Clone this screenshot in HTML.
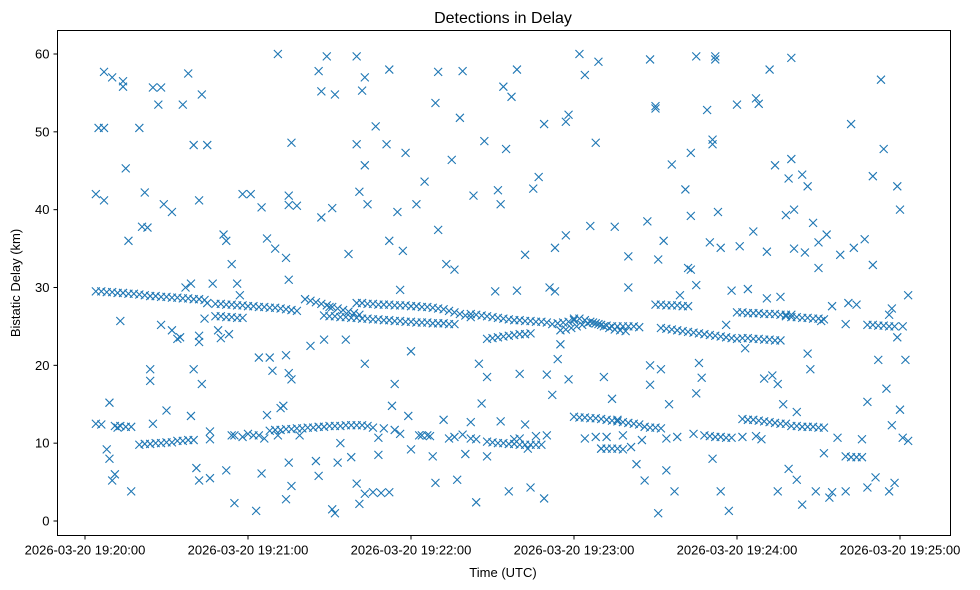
<!DOCTYPE html>
<html><head><meta charset="utf-8"><style>
body{margin:0;background:#fff;}
svg{display:block;font-family:"Liberation Sans","DejaVu Sans",sans-serif;}
</style></head><body>
<svg id="chart" width="980" height="590">
<rect x="0" y="0" width="980" height="590" fill="#fff"/>
<text x="503" y="23" text-anchor="middle" font-size="16" fill="#000">Detections in Delay</text>
<g id="marks"></g>
<g id="axes"></g>
<rect x="57.5" y="30.5" width="893" height="505" fill="none" stroke="#000" stroke-width="1"/>
<text x="503" y="577" text-anchor="middle" font-size="13" fill="#000">Time (UTC)</text>
<text transform="translate(20,283) rotate(-90)" text-anchor="middle" font-size="13" fill="#000">Bistatic Delay (km)</text>
</svg>
<script>
// time in seconds after 2026-03-20 19:20:00, delay in km
const xTickValues = [0, 60, 120, 180, 240, 300];
const xTickLabels = ["2026-03-20 19:20:00","2026-03-20 19:21:00","2026-03-20 19:22:00","2026-03-20 19:23:00","2026-03-20 19:24:00","2026-03-20 19:25:00"];
const yTickValues = [0, 10, 20, 30, 40, 50, 60];
const yTickLabels = ["0","10","20","30","40","50","60"];

const upperTrackPoints = [
[4,29.5],[6,29.5],[8,29.4],[10,29.4],[12,29.3],[14,29.3],[16,29.2],[18,29.2],[20,29.1],[22,29.0],[24,28.9],[26,28.9],[28,28.8],[30,28.8],[32,28.7],[34,28.7],[36,28.6],[38,28.6],[40,28.5],[42,28.5],[44,28.4],
[48,27.9],[50,27.9],[52,27.8],[54,27.8],[56,27.7],[58,27.7],[60,27.6],[62,27.6],[64,27.5],[66,27.5],[68,27.4],[70,27.4],[72,27.3],[74,27.2],[76,27.1],[78,27.0],
[48,26.3],[50,26.3],[52,26.2],[54,26.2],[56,26.1],[58,26.1],
[81,28.5],[83,28.3],[85,28.1],[87,27.9],[89,27.7],[91,27.5],[93,27.3],[95,27.1],[97,26.9],[99,26.7],[101,26.5],
[88,26.4],[90,26.3],[92,26.3],[94,26.2],[96,26.2],[98,26.1],[100,26.1],[102,26.0],[104,26.0],[106,25.9],[108,25.9],[110,25.8],[112,25.8],[114,25.7],[116,25.7],[118,25.6],[120,25.6],[122,25.5],[124,25.5],[126,25.5],[128,25.4],[130,25.4],[132,25.4],[134,25.3],[136,25.3],
[100,28.0],[102,28.0],[104,27.9],[106,27.9],[108,27.8],[110,27.8],[112,27.8],[114,27.7],[116,27.7],[118,27.7],[120,27.6],[122,27.6],[124,27.5],[126,27.5],[128,27.4],[130,27.3],[132,27.2],[134,27.0],[136,26.8],[138,26.6],[140,26.4],[142,26.2],
[142,26.6],[144,26.5],[146,26.4],[148,26.3],[150,26.2],[152,26.1],[154,26.0],[156,25.9],[158,25.8],[160,25.8],[162,25.7],[164,25.7],[166,25.6],[168,25.6],[170,25.5],
[148,23.4],[150,23.5],[152,23.6],[154,23.7],[156,23.8],[158,23.9],[160,24.0],[162,24.0],[164,24.1],
[172,25.3],[174,25.4],[176,25.5],[178,25.6],[180,25.8],[182,26.0],[184,25.8],[186,25.6],[188,25.4],[190,25.2],[192,25.1],[194,25.0],[196,25.0],[198,25.0],[200,25.0],[202,25.0],[204,24.9],
[175,24.5],[177,24.6],[179,24.8],[181,25.0],[183,25.2],[185,25.4],[187,25.5],[189,25.3],[191,25.0],[193,24.8],[195,24.6],[197,24.5],[199,24.4],
[210,27.8],[212,27.8],[214,27.7],[216,27.7],[218,27.7],[220,27.6],[222,27.6],
[212,24.8],[214,24.7],[216,24.6],[218,24.5],[220,24.4],[222,24.3],[224,24.2],[226,24.1],[228,24.0],[230,23.9],[232,23.8],[234,23.7],[236,23.6],[238,23.5],[240,23.4],
[240,26.8],[242,26.8],[244,26.7],[246,26.7],[248,26.7],[250,26.6],[252,26.6],[254,26.6],[256,26.5],[258,26.5],[260,26.5],
[242,23.5],[244,23.5],[246,23.4],[248,23.4],[250,23.3],[252,23.3],[254,23.2],[256,23.2],
[258,26.3],[260,26.2],[262,26.2],[264,26.1],[266,26.1],[268,26.0],[270,26.0],[272,25.9],
[288,25.2],[290,25.2],[292,25.1],[294,25.1],[296,25.0],[298,25.0]
];

const lowerTrackPoints = [
[4,12.5],[6,12.4],
[11,12.2],[13,12.2],[15,12.1],[17,12.1],
[20,9.8],[22,9.9],[24,9.9],[26,10.0],[28,10.0],[30,10.1],[32,10.1],
[34,10.3],[36,10.3],[38,10.4],[40,10.4],
[68,11.6],[70,11.7],[72,11.7],[74,11.8],[76,11.8],[78,11.9],[80,11.9],[82,12.0],[84,12.0],[86,12.1],[88,12.1],[90,12.2],[92,12.2],[94,12.2],[96,12.3],[98,12.3],[100,12.3],[102,12.3],[104,12.2],[106,12.0],
[110,11.9],[114,11.7],
[148,10.2],[150,10.1],[152,10.0],[154,10.0],[156,9.9],[158,9.9],[160,9.8],[162,9.8],[164,9.8],[166,9.8],[168,9.8],
[180,13.4],[182,13.3],[184,13.3],[186,13.2],[188,13.2],[190,13.1],[192,13.0],[194,12.9],[196,12.8],[198,12.7],[200,12.6],[202,12.5],[204,12.4],
[206,12.1],[208,12.0],[210,12.0],[212,11.9],
[190,9.3],[192,9.3],[194,9.3],[196,9.3],[198,9.2],
[242,13.1],[244,13.0],[246,13.0],[248,12.9],[250,12.8],[252,12.7],[254,12.6],[256,12.5],[258,12.5],
[260,12.2],[262,12.2],[264,12.1],[266,12.1],[268,12.1],[270,12.0],[272,12.0],
[280,8.3],[282,8.2],[284,8.2],[286,8.2],
[230,10.9],[232,10.8],[234,10.8],[236,10.7],[238,10.7]
];

const scatterPoints = [
[4,42],[5,50.5],[7,57.7],[7,50.5],[7,41.2],[10,57],[9,15.2],[8,9.2],[9,8],[10,5.2],[11,6],[12,12],[13,25.7],[14,55.8],[14,56.5],[15,45.3],[16,36],[17,3.8],
[20,50.5],[21,37.8],[22,42.2],[23,37.7],[24,19.5],[24,18],[25,12.5],[25,55.7],[27,53.5],[28,25.2],[28,55.7],[29,40.7],[30,14.2],[32,39.7],[32,24.5],[34,23.4],[35,23.6],[36,53.5],[37,30],[38,57.5],[39,30.5],[39,13.5],[40,19.5],[40,48.3],[41,6.8],[42,41.2],[42,23.8],[42,23],[43,17.6],[43,54.8],[42,5.2],[44,26],[45,48.3],[45,28],[46,11.5],[46,10.5],[46,5.5],[47,30.5],
[49,24.5],[50,23.5],[51,36.8],[52,36],[52,6.5],[53,24],[54,33],[54,11],[55,11],[55,2.3],[56,30.5],[57,29],[58,42],[61,42],[62,11],[63,1.3],[64,21],[65,6.1],[65,40.3],[67,13.6],[67,36.3],[68,21],[69,19.3],[70,35],[71,11],[71,60],[72,14.5],[73,14.8],[74,33.8],[74,21.3],[74,2.8],[75,31],[75,41.8],[75,40.6],[75,19],[76,18.2],[76,48.6],[76,4.5],[75,7.5],[78,40.5],[79,11],
[83,22.5],[85,7.7],[86,57.8],[86,5.8],[87,55.2],[87,39],[88,23.3],[89,59.7],[90,27.5],[91,40.2],[91,1.5],[92,1],[92,54.8],[93,7.5],[94,10],[96,23.3],[97,34.3],[98,8.2],[100,59.7],[100,48.4],[100,4.8],[101,42.3],[102,55.3],[103,57],[101,2.2],[103,20.2],[103,45.7],[104,40.7],[103,3.5],[106,3.7],[107,50.7],[108,8.5],[109,3.6],
[111,48.4],[112,3.7],[112,36],[112,58],[113,14.8],[114,17.6],[115,39.7],[116,29.7],[117,34.7],[118,47.3],[119,13.5],[120,9.2],[120,21.8],[122,40.7],[123,11],[125,43.6],[126,11],[128,8.3],[129,53.7],[129,4.9],[130,37.4],[130,57.7],[132,13],[133,33],[134,10.6],[135,46.4],[136,32.3],[137,5.3],[138,51.8],[139,57.8],[140,8.6],
[142,12.7],[142,10.6],[143,41.8],[144,2.4],[145,20.2],[146,15.1],[147,48.8],[148,8.3],[148,18.5],[151,29.5],[152,42.5],[153,12.8],[153,40.7],[154,55.8],[155,47.8],[156,3.8],[157,54.5],[158,10.5],[159,29.6],[159,58],[160,18.9],[162,12.4],[162,34.2],[163,9.3],[164,4.3],[165,42.7],[167,44.2],[169,51],[169,2.9],[170,18.8],[171,30],[172,16.2],[173,29.5],[173,35.1],[174,20.8],[175,22.7],[177,51.3],[177,36.7],[178,52.2],[178,18.2],
[180,26],[182,60],[184,57.3],[186,37.9],[188,48.6],[189,59],[190,9.3],[191,18.5],[192,10.8],[194,15.7],[195,37.8],[196,13],[198,11],[200,30],[200,34],[201,9.5],[203,7.3],[206,5.2],[207,38.5],[208,59.3],[208,17.5],[208,20],
[210,53.3],[210,53],[211,1],[211,33.6],[212,19.5],[213,36],[214,6.5],[215,15],[216,45.8],[217,3.8],[219,29],[221,42.6],[222,32.5],[223,47.3],[223,39.2],[223,32.3],[224,11.2],[225,59.7],[225,30.3],[225,16.4],[226,20.3],[227,18.4],[228,11],[229,52.8],[230,35.8],[231,49],[231,8],[231,48.4],[232,59.7],[232,59.3],[233,39.7],[234,3.8],[234,35.1],[236,25.2],[237,1.3],[238,29.6],
[240,53.5],[241,35.3],[242,10.8],[243,22.2],[244,29.8],[246,37.2],[247,54.3],[248,53.6],[249,10.5],[250,18.3],[251,28.6],[251,34.6],[252,58],[253,18.7],[254,45.7],[255,3.8],[255,17.6],[256,28.8],[257,15],[258,39.3],[259,6.7],[259,44],[260,59.5],[260,46.5],[261,40],[261,35],[262,14],[262,5.3],[264,2.1],[264,44.5],[265,34.5],[266,43],[266,21.5],[267,19.5],[268,38.3],[269,3.8],[270,32.5],[270,35.8],[271,25.7],[272,8.7],[273,36.8],[274,3],[275,3.7],[275,27.6],[277,10.7],[278,34.2],
[280,25.3],[280,3.8],[281,28],[282,51],[283,35.1],[284,27.8],[286,10.5],[287,36.2],[288,15.3],[288,4.3],[290,32.9],[290,44.3],[291,5.6],[292,20.7],[293,56.7],[294,47.8],[295,17],[296,3.8],[296,26.5],[297,27.3],[297,12.3],[298,4.9],[299,23.6],[299,43],[300,40],[300,14.3],[301,25],[302,20.7],[301,10.7],[303,10.3],[303,29]
];

const lowerClutterPoints = [
[58,10.8],[60,11.2],[64,11],[66,10.6],[108,10.7],[116,11.2],[124,11],[127,10.9],[136,10.8],[139,11.1],[144,10.5],[160,10.6],[166,10.9],[170,11],[184,10.6],[188,10.8],[205,10.4],[214,10.6],[218,10.8],[247,10.9]
];

const NS = "http://www.w3.org/2000/svg";
const plot = {left:57.5, right:950.5, top:30.5, bottom:535.5};
function xScale(t){ return 85 + t * (163/60); }
function yScale(d){ return 521 - d * (467/60); }

const axes = document.getElementById('axes');
xTickValues.forEach((v,i)=>{
  const x = xScale(v);
  const ln = document.createElementNS(NS,'line');
  ln.setAttribute('x1',x); ln.setAttribute('x2',x);
  ln.setAttribute('y1',plot.bottom); ln.setAttribute('y2',plot.bottom+4);
  ln.setAttribute('stroke','#000');
  
  
  axes.appendChild(ln);
  const tx = document.createElementNS(NS,'text');
  tx.setAttribute('x',x); tx.setAttribute('y',plot.bottom+19);
  tx.setAttribute('text-anchor','middle'); tx.setAttribute('font-size','13');
  tx.textContent = xTickLabels[i];
  
  
  axes.appendChild(tx);
});
yTickValues.forEach((v,i)=>{
  const y = yScale(v);
  const ln = document.createElementNS(NS,'line');
  ln.setAttribute('x1',plot.left-4); ln.setAttribute('x2',plot.left);
  ln.setAttribute('y1',y); ln.setAttribute('y2',y);
  ln.setAttribute('stroke','#000');
  
  
  axes.appendChild(ln);
  const tx = document.createElementNS(NS,'text');
  tx.setAttribute('x',plot.left-8); tx.setAttribute('y',y+4.5);
  tx.setAttribute('text-anchor','end'); tx.setAttribute('font-size','13');
  tx.textContent = yTickLabels[i];
  
  
  axes.appendChild(tx);
});

const marks = document.getElementById('marks');
const h = 4;
function drawMarker(p){
  const x = xScale(p[0]), y = yScale(p[1]);
  const path = document.createElementNS(NS,'path');
  path.setAttribute('d',`M${x-h},${y-h}L${x+h},${y+h}M${x-h},${y+h}L${x+h},${y-h}`);
  path.setAttribute('stroke','#1f77b4');
  path.setAttribute('stroke-width','1.1');
  path.setAttribute('fill','none');
  
  
  marks.appendChild(path);
}
upperTrackPoints.forEach(drawMarker);
lowerTrackPoints.forEach(drawMarker);
scatterPoints.forEach(drawMarker);
lowerClutterPoints.forEach(drawMarker);
</script>
</body></html>
